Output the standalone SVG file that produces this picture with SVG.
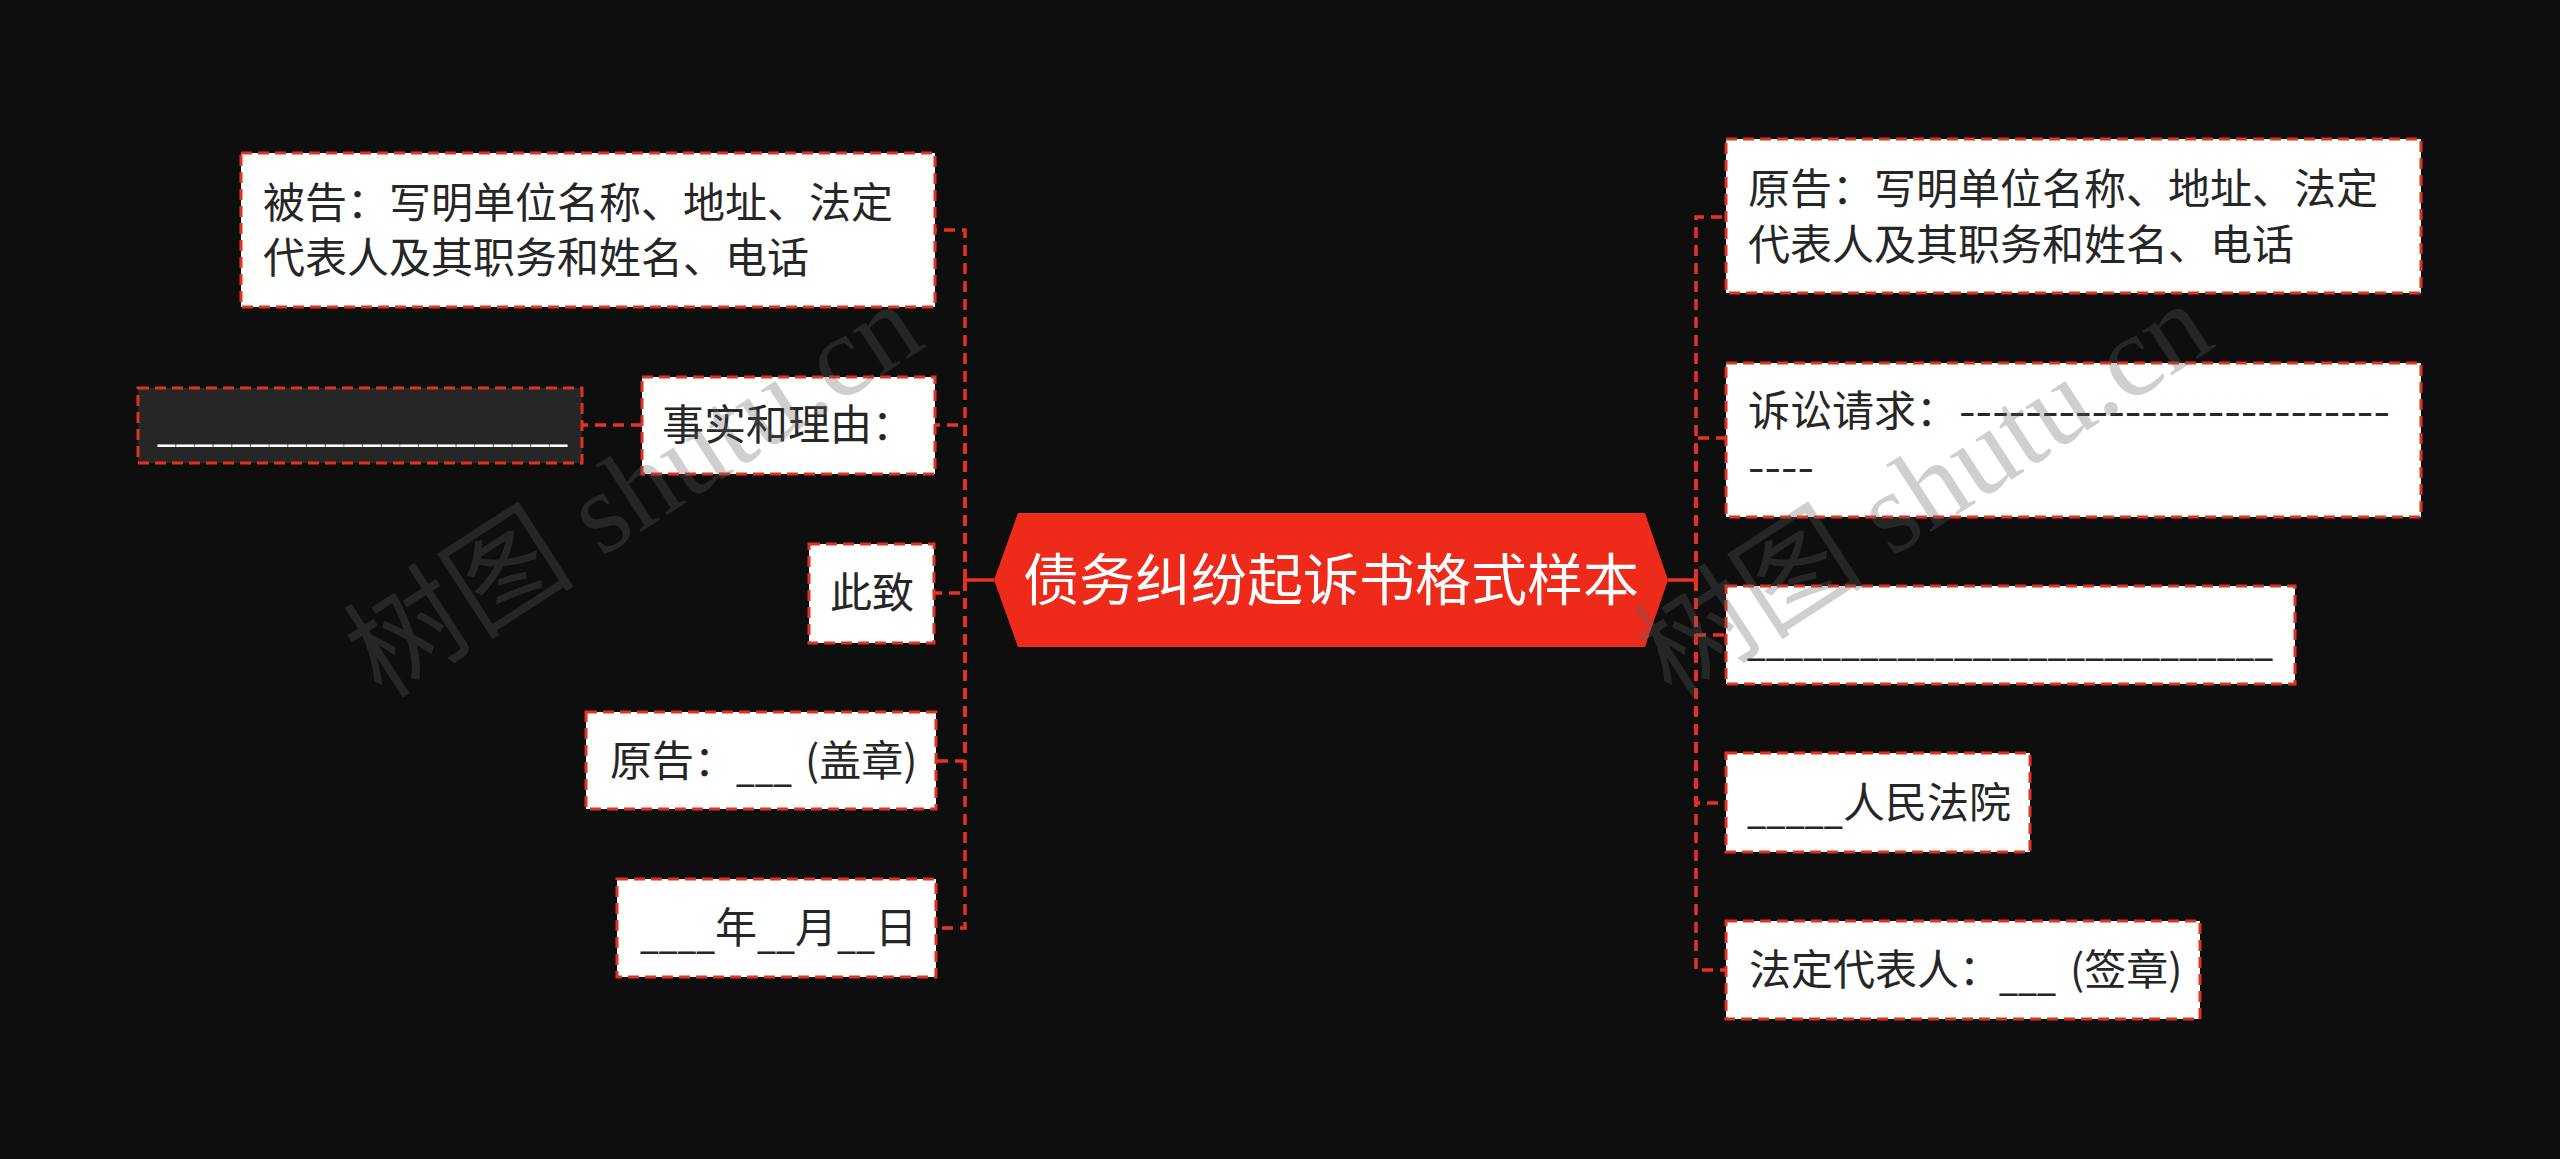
<svg xmlns="http://www.w3.org/2000/svg" width="2560" height="1159" viewBox="0 0 2560 1159">
<style>
.bg{fill:#0e0e0e}
.box{fill:#ffffff;stroke:#e0321f;stroke-width:3;stroke-dasharray:11 6}
.dark{fill:#262626;stroke:#e0321f;stroke-width:3;stroke-dasharray:11 6}
.t{font-family:"Noto Sans CJK SC","Noto Sans",sans-serif;font-size:42px;fill:#262626}
.tw{font-family:"Noto Sans CJK SC","Noto Sans",sans-serif;font-size:42px;fill:#ffffff}
.title{font-family:"Noto Sans CJK SC","Noto Sans",sans-serif;font-size:56px;fill:#ffffff}
.con{fill:none;stroke:#e8321f;stroke-width:3.5;stroke-dasharray:11 7}
.solid{fill:none;stroke:#e8321f;stroke-width:3.5}
.wm{font-family:"Liberation Serif","Noto Sans CJK SC",serif;font-size:116px;fill:#606060;fill-opacity:0.3}
</style>
<rect class="bg" x="0" y="0" width="2560" height="1159"/>

<g id="connectors">
  <path class="solid" d="M994 580 H965"/>
  <path class="con" d="M965 580 V230 H935"/>
  <path class="con" d="M965 580 V425 H935"/>
  <path class="con" d="M965 580 V593 H935"/>
  <path class="con" d="M965 580 V761 H935"/>
  <path class="con" d="M965 580 V928 H935"/>
  <path class="con" d="M642 425 H582"/>
  <path class="solid" d="M1668 580 H1696"/>
  <path class="con" d="M1696 580 V217 H1726"/>
  <path class="con" d="M1696 580 V438 H1726"/>
  <path class="con" d="M1696 580 V635 H1726"/>
  <path class="con" d="M1696 580 V803 H1726"/>
  <path class="con" d="M1696 580 V970 H1726"/>
</g>

<g id="center">
  <polygon points="994,580 1018,513 1645,513 1668,580 1645,647 1018,647" fill="#ee2a1b"/>
  <text class="title" x="1331" y="600" text-anchor="middle">债务纠纷起诉书格式样本</text>
</g>

<g id="n-beigao">
  <rect class="box" x="241" y="153" width="694" height="154"/>
  <text class="t"><tspan x="263" y="218">被告：写明单位名称、地址、法定</tspan><tspan x="263" y="273">代表人及其职务和姓名、电话</tspan></text>
</g>
<g id="n-shishi">
  <rect class="box" x="642" y="377" width="293" height="97"/>
  <text class="t" x="662" y="440">事实和理由：</text>
</g>
<g id="n-blank-left">
  <rect class="dark" x="138" y="388" width="444" height="75"/>
  <text class="tw" x="157" y="441"><tspan textLength="411" lengthAdjust="spacingAndGlyphs">______________________</tspan></text>
</g>
<g id="n-cizhi">
  <rect class="box" x="809" y="544" width="125" height="99"/>
  <text class="t" x="872" y="608" text-anchor="middle">此致</text>
</g>
<g id="n-yuangao-seal">
  <rect class="box" x="586" y="712" width="350" height="97"/>
  <text class="t"><tspan x="610" y="776">原告：</tspan><tspan x="736" y="781" textLength="56" lengthAdjust="spacingAndGlyphs">___</tspan><tspan x="805" y="776">(盖章)</tspan></text>
</g>
<g id="n-date">
  <rect class="box" x="617" y="879" width="319" height="98"/>
  <text class="t"><tspan x="640" y="948" textLength="75" lengthAdjust="spacingAndGlyphs">____</tspan><tspan x="715" y="943">年</tspan><tspan x="757" y="948" textLength="38" lengthAdjust="spacingAndGlyphs">__</tspan><tspan x="795" y="943">月</tspan><tspan x="837" y="948" textLength="38" lengthAdjust="spacingAndGlyphs">__</tspan><tspan x="875" y="943">日</tspan></text>
</g>

<g id="n-yuangao">
  <rect class="box" x="1726" y="139" width="695" height="154"/>
  <text class="t"><tspan x="1748" y="204">原告：写明单位名称、地址、法定</tspan><tspan x="1748" y="260">代表人及其职务和姓名、电话</tspan></text>
</g>
<g id="n-qingqiu">
  <rect class="box" x="1726" y="363" width="695" height="154"/>
  <text class="t"><tspan x="1748" y="426">诉讼请求：</tspan><tspan x="1959" y="426" textLength="431" lengthAdjust="spacingAndGlyphs">--------------------------</tspan><tspan x="1748" y="482" textLength="66" lengthAdjust="spacingAndGlyphs">----</tspan></text>
</g>
<g id="n-blank-right">
  <rect class="box" x="1726" y="586" width="569" height="98"/>
  <text class="t" x="1747" y="655"><tspan textLength="526" lengthAdjust="spacingAndGlyphs">____________________________</tspan></text>
</g>
<g id="n-court">
  <rect class="box" x="1726" y="753" width="304" height="99"/>
  <text class="t"><tspan x="1747" y="823" textLength="96" lengthAdjust="spacingAndGlyphs">_____</tspan><tspan x="1843" y="818">人民法院</tspan></text>
</g>
<g id="n-rep">
  <rect class="box" x="1726" y="921" width="474" height="98"/>
  <text class="t"><tspan x="1749" y="985">法定代表人：</tspan><tspan x="1999" y="990" textLength="57" lengthAdjust="spacingAndGlyphs">___</tspan><tspan x="2070" y="985">(签章)</tspan></text>
</g>

<g id="watermark">
  <text class="wm" transform="translate(382 700) rotate(-33)">树图 shutu.cn</text>
  <text class="wm" transform="translate(1672 700) rotate(-33)">树图 shutu.cn</text>
</g>
</svg>
